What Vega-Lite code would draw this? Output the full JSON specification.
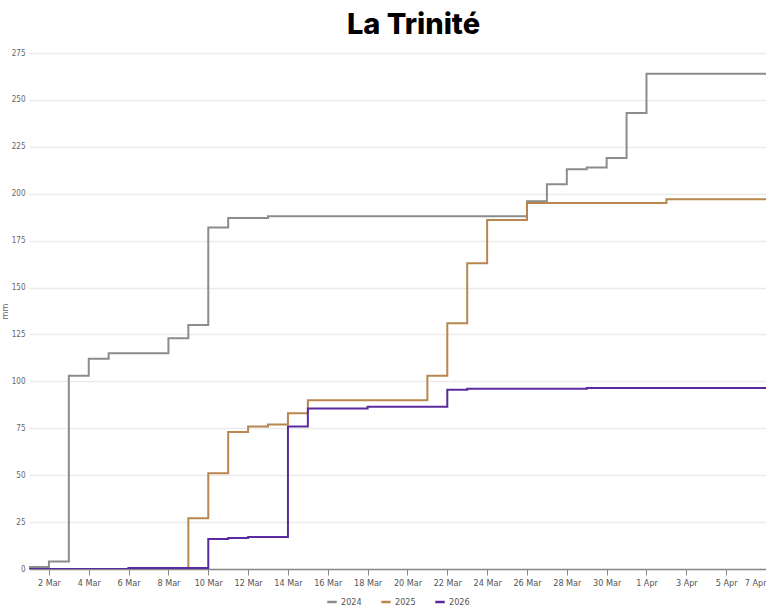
{
  "$schema": "https://vega.github.io/schema/vega-lite/v6.json",
  "width": 737,
  "height": 516,
  "autosize": "none",
  "padding": {"left": 29, "top": 53, "right": 0, "bottom": 37},
  "background": "white",
  "title": {
    "text": "La Trinité",
    "font": "Inter",
    "fontSize": 29,
    "fontWeight": 800,
    "color": "#000000",
    "anchor": "middle",
    "frame": "group",
    "dx": 16,
    "offset": 9
  },
  "config": {
    "view": {"stroke": null},
    "font": "Liberation Sans Narrow, DejaVu Sans Condensed, Liberation Sans, sans-serif"
  },
  "data": {
    "values": [
      {"date": "2026-03-01T00:00:00", "year": "2024", "mm": 1},
      {"date": "2026-03-02T00:00:00", "year": "2024", "mm": 4},
      {"date": "2026-03-03T00:00:00", "year": "2024", "mm": 103},
      {"date": "2026-03-04T00:00:00", "year": "2024", "mm": 112},
      {"date": "2026-03-05T00:00:00", "year": "2024", "mm": 115},
      {"date": "2026-03-08T00:00:00", "year": "2024", "mm": 123},
      {"date": "2026-03-09T00:00:00", "year": "2024", "mm": 130},
      {"date": "2026-03-10T00:00:00", "year": "2024", "mm": 182},
      {"date": "2026-03-11T00:00:00", "year": "2024", "mm": 187},
      {"date": "2026-03-13T00:00:00", "year": "2024", "mm": 188},
      {"date": "2026-03-26T00:00:00", "year": "2024", "mm": 196},
      {"date": "2026-03-27T00:00:00", "year": "2024", "mm": 205},
      {"date": "2026-03-28T00:00:00", "year": "2024", "mm": 213},
      {"date": "2026-03-29T00:00:00", "year": "2024", "mm": 214},
      {"date": "2026-03-30T00:00:00", "year": "2024", "mm": 219},
      {"date": "2026-03-31T00:00:00", "year": "2024", "mm": 243},
      {"date": "2026-04-01T00:00:00", "year": "2024", "mm": 264},
      {"date": "2026-04-07T00:00:00", "year": "2024", "mm": 264},

      {"date": "2026-03-01T00:00:00", "year": "2025", "mm": 0},
      {"date": "2026-03-06T00:00:00", "year": "2025", "mm": 0.5},
      {"date": "2026-03-09T00:00:00", "year": "2025", "mm": 27},
      {"date": "2026-03-10T00:00:00", "year": "2025", "mm": 51},
      {"date": "2026-03-11T00:00:00", "year": "2025", "mm": 73},
      {"date": "2026-03-12T00:00:00", "year": "2025", "mm": 76},
      {"date": "2026-03-13T00:00:00", "year": "2025", "mm": 77},
      {"date": "2026-03-14T00:00:00", "year": "2025", "mm": 83},
      {"date": "2026-03-15T00:00:00", "year": "2025", "mm": 90},
      {"date": "2026-03-21T00:00:00", "year": "2025", "mm": 103},
      {"date": "2026-03-22T00:00:00", "year": "2025", "mm": 131},
      {"date": "2026-03-23T00:00:00", "year": "2025", "mm": 163},
      {"date": "2026-03-24T00:00:00", "year": "2025", "mm": 186},
      {"date": "2026-03-26T00:00:00", "year": "2025", "mm": 195},
      {"date": "2026-04-02T00:00:00", "year": "2025", "mm": 197},
      {"date": "2026-04-07T00:00:00", "year": "2025", "mm": 197},

      {"date": "2026-03-01T00:00:00", "year": "2026", "mm": 0},
      {"date": "2026-03-06T00:00:00", "year": "2026", "mm": 0.5},
      {"date": "2026-03-10T00:00:00", "year": "2026", "mm": 16},
      {"date": "2026-03-11T00:00:00", "year": "2026", "mm": 16.5},
      {"date": "2026-03-12T00:00:00", "year": "2026", "mm": 17},
      {"date": "2026-03-14T00:00:00", "year": "2026", "mm": 76},
      {"date": "2026-03-15T00:00:00", "year": "2026", "mm": 85.5},
      {"date": "2026-03-18T00:00:00", "year": "2026", "mm": 86.5},
      {"date": "2026-03-22T00:00:00", "year": "2026", "mm": 95.5},
      {"date": "2026-03-23T00:00:00", "year": "2026", "mm": 96},
      {"date": "2026-03-29T00:00:00", "year": "2026", "mm": 96.5},
      {"date": "2026-04-07T00:00:00", "year": "2026", "mm": 96.5}
    ]
  },
  "mark": {"type": "line", "interpolate": "step-after", "strokeWidth": 2, "clip": true},
  "encoding": {
    "x": {
      "field": "date",
      "type": "temporal",
      "scale": {
        "domain": [
          {"year": 2026, "month": 3, "date": 1},
          {"year": 2026, "month": 4, "date": 7}
        ],
        "nice": false
      },
      "axis": {
        "title": null,
        "format": "%-d %b",
        "values": [
          {"year": 2026, "month": 3, "date": 2},
          {"year": 2026, "month": 3, "date": 4},
          {"year": 2026, "month": 3, "date": 6},
          {"year": 2026, "month": 3, "date": 8},
          {"year": 2026, "month": 3, "date": 10},
          {"year": 2026, "month": 3, "date": 12},
          {"year": 2026, "month": 3, "date": 14},
          {"year": 2026, "month": 3, "date": 16},
          {"year": 2026, "month": 3, "date": 18},
          {"year": 2026, "month": 3, "date": 20},
          {"year": 2026, "month": 3, "date": 22},
          {"year": 2026, "month": 3, "date": 24},
          {"year": 2026, "month": 3, "date": 26},
          {"year": 2026, "month": 3, "date": 28},
          {"year": 2026, "month": 3, "date": 30},
          {"year": 2026, "month": 4, "date": 1},
          {"year": 2026, "month": 4, "date": 3},
          {"year": 2026, "month": 4, "date": 5},
          {"year": 2026, "month": 4, "date": 7}
        ],
        "grid": false,
        "domainColor": "#888888",
        "domainWidth": 1.5,
        "tickColor": "#888888",
        "tickWidth": 1,
        "tickSize": 6,
        "labelFontSize": 9,
        "labelColor": "#555555",
        "labelPadding": 3,
        "labelFlush": true,
        "labelOverlap": false
      }
    },
    "y": {
      "field": "mm",
      "type": "quantitative",
      "scale": {"domain": [0, 275], "nice": false},
      "axis": {
        "title": "mm",
        "titleFontSize": 9,
        "titleFontWeight": "normal",
        "titleColor": "#666666",
        "titleX": -20,
        "titleY": 258,
        "titleAngle": -90,
        "titleBaseline": "bottom",
        "titleAlign": "center",
        "values": [0, 25, 50, 75, 100, 125, 150, 175, 200, 225, 250, 275],
        "domain": false,
        "ticks": false,
        "grid": true,
        "gridColor": "#ebebeb",
        "gridWidth": 1.5,
        "labelFontSize": 8,
        "labelColor": "#666666",
        "labelPadding": 4
      }
    },
    "color": {
      "field": "year",
      "type": "nominal",
      "scale": {
        "domain": ["2024", "2025", "2026"],
        "range": ["#8c8c8c", "#b8864f", "#5a2a9e"]
      },
      "legend": {
        "title": null,
        "orient": "none",
        "direction": "horizontal",
        "legendX": 297,
        "legendY": 543,
        "symbolType": "stroke",
        "symbolStrokeWidth": 2.5,
        "symbolSize": 90,
        "labelFontSize": 9,
        "labelColor": "#555555",
        "columnPadding": 14,
        "labelOffset": 3
      }
    }
  }
}
